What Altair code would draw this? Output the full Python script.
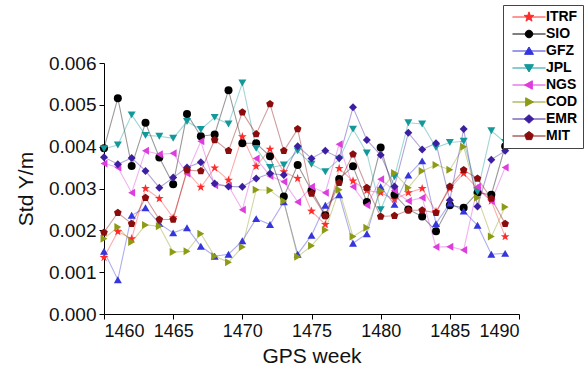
import altair as alt
import pandas as pd

weeks = list(range(1460, 1490))
series_names = ["ITRF", "SIO", "GFZ", "JPL", "NGS", "COD", "EMR", "MIT"]
colors = ["#ff2b2b", "#000000", "#3535dd", "#14999b", "#dd3ddd", "#8c9a14", "#3c1fa0", "#8b0c0c"]

# values in units of 1e-3 m
itrf = [1.35, 1.97, 1.80, 3.00, 2.76, 2.30, 3.40, 3.03, 3.49, 3.20, 4.24, 3.53, 3.94, 3.40, 3.24,
        2.46, 2.14, 3.48, 3.18, 2.95, 2.90, 2.74, 2.90, 3.00, 2.45, 3.00, 3.36, 3.00, 2.70, 1.85]
sio = [3.96, 5.16, 3.54, 4.57, 3.74, 3.10, 4.78, 4.25, 4.29, 5.35, 4.08, 4.08, 3.77, 2.81, 3.56,
       2.95, 2.36, 3.23, 3.53, 2.68, 3.98, 2.85, 2.50, 2.33, 1.98, 2.60, 2.54, 2.90, 2.85, 4.01]
gfz = [1.50, 0.82, 2.36, 2.54, 2.16, 1.94, 2.06, 1.62, 1.38, 1.43, 1.75, 2.28, 2.14, 2.68, 1.43,
       1.88, 2.60, 2.85, 1.69, 1.92, 3.04, 2.62, 3.32, 3.66, 2.16, 2.65, 2.46, 2.12, 1.43, 1.45]
jpl = [3.95, 4.04, 4.76, 4.27, 4.25, 4.20, 4.60, 4.41, 4.70, 4.54, 5.52, 3.96, 3.50, 3.56, 3.90,
       3.58, 3.40, 3.70, 4.42, 3.85, 2.49, 3.28, 4.57, 4.54, 3.98, 4.10, 4.13, 2.92, 4.38, 4.10]
ngs = [3.60, 3.50, 2.90, 3.90, 3.82, 3.84, 3.36, 4.13, 3.08, 3.06, 2.49, 3.72, 3.30, 3.16, 2.68,
       3.04, 2.90, 4.06, 3.04, 2.60, 3.22, 2.95, 2.70, 2.78, 1.60, 1.61, 1.53, 3.04, 2.70, 3.50]
cod = [1.80, 2.08, 1.72, 2.13, 2.10, 1.48, 1.50, 1.92, 1.38, 1.24, 1.60, 2.97, 2.96, 2.70, 1.37,
       1.63, 2.01, 2.97, 1.85, 2.06, 2.95, 3.37, 3.02, 3.42, 3.56, 3.45, 4.00, 2.78, 1.85, 2.56]
emr = [3.75, 3.58, 3.73, 3.42, 3.02, 3.26, 3.50, 3.63, 3.12, 3.05, 3.04, 3.24, 3.36, 3.32, 4.01,
       3.72, 3.90, 3.73, 4.94, 4.16, 3.80, 3.05, 4.33, 3.93, 4.08, 2.72, 4.42, 2.57, 3.69, 3.90]
mit = [1.95, 2.42, 2.16, 2.78, 2.26, 2.26, 3.44, 3.42, 4.16, 3.90, 4.82, 4.30, 5.02, 3.90, 4.42,
       2.88, 2.34, 3.14, 3.82, 3.02, 2.33, 2.35, 2.48, 2.48, 2.42, 3.05, 3.44, 3.24, 2.76, 2.16]

all_values = [itrf, sio, gfz, jpl, ngs, cod, emr, mit]

rows = []
for name, vals in zip(series_names, all_values):
    for w, v in zip(weeks, vals):
        rows.append({"week": w, "std": v / 1000.0, "series": name})
df = pd.DataFrame(rows)

star = ("M0,-1.15L0.27,-0.37L1.1,-0.36L0.44,0.14L0.68,0.93L0,0.46L-0.68,0.93L-0.44,0.14"
        "L-1.1,-0.36L-0.27,-0.37Z")
pentagon = "M0,-1L0.95,-0.31L0.59,0.81L-0.59,0.81L-0.95,-0.31Z"
marker_shapes = [star, "circle", "triangle-up", "triangle-down", "triangle-left",
                 "triangle-right", "diamond", pentagon]

line = "M-3.7,0L3.7,0"
legend_shapes = [
    line + star,
    line + "M0.85,0A0.85,0.85,0,1,1,-0.85,0A0.85,0.85,0,1,1,0.85,0Z",
    line + "M0,-0.9L1,0.75L-1,0.75Z",
    line + "M0,0.9L1,-0.75L-1,-0.75Z",
    line + "M-1,0L0.75,-0.95L0.75,0.95Z",
    line + "M1,0L-0.75,-0.95L-0.75,0.95Z",
    line + "M0,-0.95L1.05,0L0,0.95L-1.05,0Z",
    line + pentagon,
]

x_vals = [1460 + 2.5 * i for i in range(13)]
y_vals = [0.0005 * i for i in range(13)]
y_major = "abs(datum.value * 1000 - round(datum.value * 1000)) < 1e-6"

x_enc = alt.X(
    "week:Q",
    scale=alt.Scale(domain=[1460, 1490], nice=False, zero=False),
    axis=alt.Axis(
        title="GPS week",
        values=x_vals,
        labelExpr="datum.value % 5 === 0 ? format(datum.value, 'd') : ''",
        tickSize={"condition": {"test": "datum.value % 5 === 0", "value": 5}, "value": 3},
        grid=False,
        labelFontSize=18,
        titleFontSize=21,
        titleFontWeight="normal",
        labelPadding=3,
        titlePadding=5,
    ),
)
y_enc = alt.Y(
    "std:Q",
    scale=alt.Scale(domain=[0, 0.006], nice=False),
    axis=alt.Axis(
        title="Std Y/m",
        values=y_vals,
        labelExpr=y_major + " ? format(datum.value, '.3f') : ''",
        tickSize={"condition": {"test": y_major, "value": 5}, "value": 3},
        grid=False,
        labelFontSize=19,
        titleFontSize=21,
        titleFontWeight="normal",
        labelPadding=3,
        titlePadding=12,
    ),
)

color_scale = alt.Scale(domain=series_names, range=colors)
legend_def = alt.Legend(
    title=None,
    orient="none",
    legendX=399,
    legendY=-58,
    strokeColor="#444444",
    fillColor="white",
    padding=5,
    symbolSize=80,
    symbolOpacity=1,
    symbolStrokeWidth=1,
    symbolOffset=14,
    labelOffset=10,
    labelFontSize=14,
    labelFontWeight="bold",
    labelColor="#000000",
    rowPadding=3,
)
color_enc = alt.Color("series:N", scale=color_scale, legend=legend_def)

legend_layer = alt.Chart(df).mark_point(filled=True, size=80, opacity=0, strokeWidth=1).encode(
    x=x_enc,
    y=y_enc,
    color=color_enc,
    shape=alt.Shape("series:N", scale=alt.Scale(domain=series_names, range=legend_shapes),
                    legend=legend_def),
)

lines = alt.Chart(df).mark_line(strokeWidth=1.1, opacity=0.4).encode(
    x="week:Q",
    y="std:Q",
    color=color_enc,
    detail="series:N",
)

point_layers = []
for name, shp in zip(series_names, marker_shapes):
    point_layers.append(
        alt.Chart(df)
        .transform_filter(alt.datum.series == name)
        .mark_point(filled=True, size=64, opacity=1, shape=shp)
        .encode(x="week:Q", y="std:Q", color=color_enc)
    )

chart = (
    alt.layer(legend_layer, lines, *point_layers)
    .properties(
        width=415,
        height=251,
        autosize=alt.AutoSizeParams(type="none"),
        padding={"left": 104, "top": 63, "right": 69, "bottom": 61},
    )
    .configure_view(stroke=None)
    .configure_axis(
        domainColor="#000000",
        tickColor="#000000",
        labelColor="#111111",
        titleColor="#111111",
        labelFont="Liberation Sans",
        titleFont="Liberation Sans",
    )
    .configure_legend(labelFont="Liberation Sans")
)

chart.save("out.html", embed_options={"renderer": "svg", "actions": False})
